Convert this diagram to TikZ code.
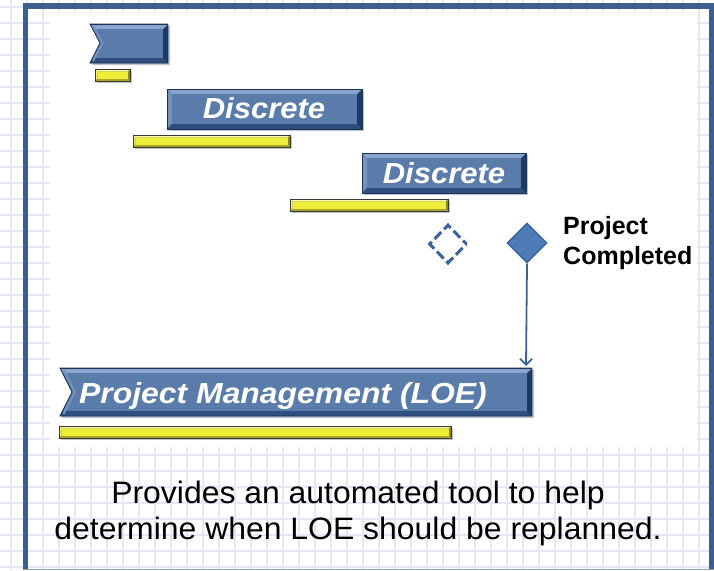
\documentclass[tikz,border=0pt]{standalone}
\usepackage{fontspec}
\setmainfont{Liberation Sans}
\usetikzlibrary{shapes.geometric,arrows.meta}
\definecolor{framec}{HTML}{3D5F8E}
\definecolor{gridc}{HTML}{E2E9F5}
\definecolor{bface}{HTML}{5A7CAB}
\definecolor{blight}{HTML}{8AA5CB}
\definecolor{bleft}{HTML}{7592BD}
\definecolor{bdark}{HTML}{1D3A66}
\definecolor{bbottom}{HTML}{2D4E7E}
\definecolor{bedge}{HTML}{1A3358}
\definecolor{yface}{HTML}{EDED3A}
\definecolor{ylight}{HTML}{F9F9A0}
\definecolor{yleft}{HTML}{F4F470}
\definecolor{ydark}{HTML}{8C8A1E}
\definecolor{ybottom}{HTML}{A9A52A}
\definecolor{yedge}{HTML}{3A3A2C}
\definecolor{msfill}{HTML}{4C7BB5}
\definecolor{msedge}{HTML}{3A6499}
\definecolor{shadowc}{HTML}{BFC5CF}
% bevelled bar: x1 y1 x2 y2 bevel, colours prefix b or y
\newcommand\BevBar[6]{%
  \fill[#6dark] (#1,#2) rectangle (#3,#4);
  \fill[#6light] (#1,#2) -- (#3,#2) -- (#3-#5,#2+#5) -- (#1+#5,#2+#5) -- cycle;
  \fill[#6left] (#1,#2) -- (#1+#5,#2+#5) -- (#1+#5,#4-#5) -- (#1,#4) -- cycle;
  \fill[#6bottom] (#1,#4) -- (#1+#5,#4-#5) -- (#3-#5,#4-#5) -- (#3,#4) -- cycle;
  \fill[#6face] (#1+#5,#2+#5) rectangle (#3-#5,#4-#5);
  \draw[#6edge, line width=0.8pt] (#1,#2) rectangle (#3,#4);
}
\newcommand\BarShadow[4]{\fill[shadowc] (#1+1.5,#2+1.5) rectangle (#3+2,#4+2);}
\tikzset{
  gridline/.style={gridc, line width=1.5pt},
  bartext/.style={text=white, font=\fontsize{29}{34}\selectfont\bfseries\itshape, inner sep=0pt},
  pctext/.style={text=black, font=\fontsize{25}{30}\selectfont\bfseries, align=left, inner sep=0pt},
  note/.style={text=black, font=\fontsize{31}{36}\selectfont, align=center, inner sep=0pt},
  msopen/.style={diamond, draw=msedge, line width=3pt, dash pattern=on 9.6pt off 4pt, dash phase=4.8pt, minimum width=38pt, minimum height=39pt, inner sep=0pt},
  msdone/.style={diamond, draw=msedge, fill=msfill, line width=1.2pt, minimum width=40pt, minimum height=40pt, inner sep=0pt},
  arr/.style={msedge, line width=1.8pt, -{Straight Barb[length=6pt,width=12pt]}}
}
\begin{document}
\begin{tikzpicture}[x=1pt,y=-1pt]
\useasboundingbox (0,0) rectangle (714,570);
\fill[white] (0,0) rectangle (714,570);
% grid
\foreach \x in {11,27,...,715} \draw[gridline] (\x,0) -- (\x,570);
\foreach \y in {7,23,...,570} \draw[gridline] (0,\y) -- (714,\y);
% white panel
\fill[white] (50,12) rectangle (697,447);
% frame
\draw[framec, line width=5.5pt] (25.5,570) -- (25.5,6) -- (712,6) -- (712,570);
\draw[framec!60, line width=0.8pt] (23,569.5) -- (714,569.5);

% first small bar (notched)
\fill[shadowc] (92,26) -- (170,26) -- (170,65) -- (92,65) -- (102,45) -- cycle;
\begin{scope}
  \clip (90,24) -- (168,24) -- (168,63) -- (90,63) -- (100,43) -- cycle;
  \BevBar{88}{24}{168}{63}{5}{b}
\end{scope}
\draw[bedge, line width=0.8pt] (90,24) -- (168,24) -- (168,63) -- (90,63) -- (100,43) -- cycle;
\draw[bleft, line width=2pt] (93,26) -- (102.5,43) -- (93,61);
\BarShadow{95}{69}{130}{81}
\BevBar{95}{69}{130}{81}{2.5}{y}

% Discrete 1
\BarShadow{167}{89}{362}{129}
\BevBar{167}{89}{362}{129}{5}{b}
\BarShadow{133}{135}{290}{147}
\BevBar{133}{135}{290}{147}{2.5}{y}
\node[bartext] (d1) at (264,108.5) {\scalebox{1.07}[1]{Discrete}};

% Discrete 2
\BarShadow{362}{153}{526}{193}
\BevBar{362}{153}{526}{193}{5}{b}
\BarShadow{290}{199}{448}{211}
\BevBar{290}{199}{448}{211}{2.5}{y}
\node[bartext] (d2) at (444,173) {\scalebox{1.07}[1]{Discrete}};

% milestones
\node[msopen] (ms0) at (448,244) {};
\node[msdone] (ms1) at (527,243) {};
\node[pctext, anchor=west] (pc) at (563,243.5) {Project\\Completed};

% Project Management bar (notched)
\fill[shadowc] (62,370) -- (534,370) -- (534,418) -- (62,418) -- (74,394) -- cycle;
\begin{scope}
  \clip (60,368) -- (532,368) -- (532,416) -- (60,416) -- (72,392) -- cycle;
  \BevBar{58}{368}{532}{416}{5}{b}
\end{scope}
\draw[bedge, line width=0.8pt] (60,368) -- (532,368) -- (532,416) -- (60,416) -- (72,392) -- cycle;
\draw[bleft, line width=2pt] (63.5,370) -- (75,392) -- (63.5,414);
\BarShadow{59}{426}{451}{438}
\BevBar{59}{426}{451}{438}{2.5}{y}
\node[bartext, anchor=base west] (pm) at (79,403) {\scalebox{1.1}[1]{Project Management (LOE)}};

\coordinate (pmtop) at (526,366);
\draw[arr] (ms1.south) -- (pmtop);

% note
\node[note] (note) at (358,513) {\scalebox{1.03}[1]{Provides an automated tool to help}\\\scalebox{1.03}[1]{determine when LOE should be replanned.}};
\end{tikzpicture}
\end{document}
